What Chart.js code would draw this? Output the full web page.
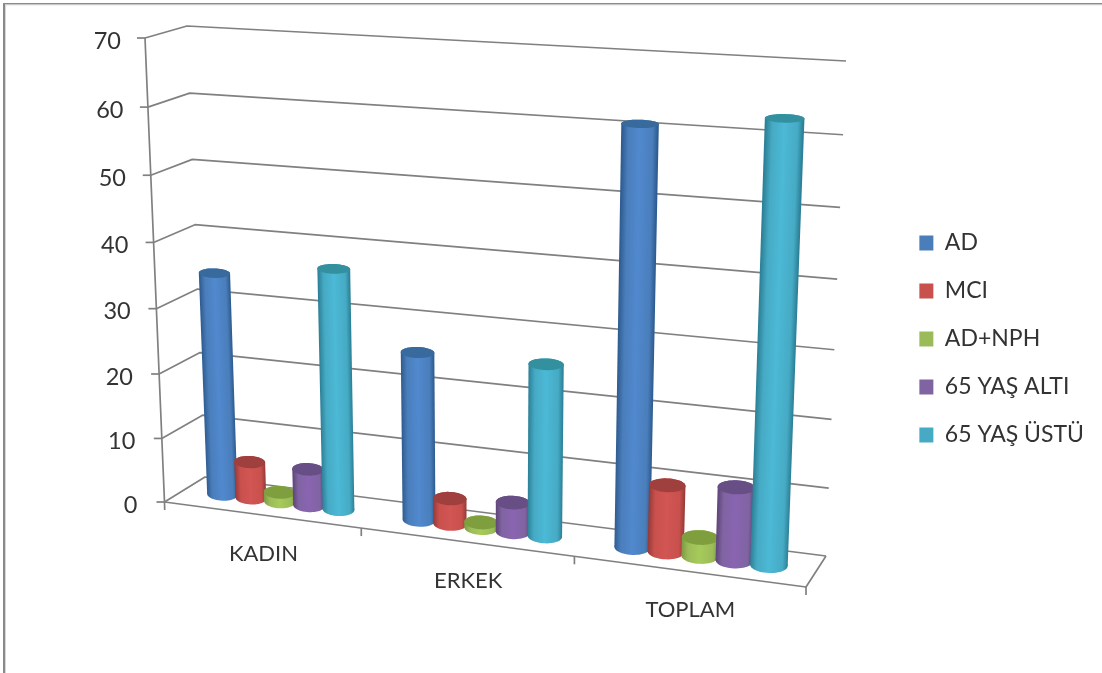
<!DOCTYPE html>
<html>
<head>
<meta charset="utf-8">
<script src="https://cdn.jsdelivr.net/npm/chart.js@4/dist/chart.umd.min.js"></script>
<style>
  html, body { margin: 0; padding: 0; background: #fff; }
  #wrap { width: 1102px; height: 673px; position: relative; }
</style>
</head>
<body>
<div id="wrap"><canvas id="chart" width="1102" height="673"></canvas></div>
<script>
// Chart contents
const categories = ['KADIN', 'ERKEK', 'TOPLAM'];
const seriesNames = ['AD', 'MCI', 'AD+NPH', '65 YAŞ ALTI', '65 YAŞ ÜSTÜ'];
const adValues = [34.5, 25.5, 61];
const mciValues = [5.7, 3.9, 9.9];
const adNphValues = [1.5, 0.85, 2.8];
const under65Values = [5.7, 4.5, 10.8];
const over65Values = [36.8, 25.7, 63];
const seriesValues = [adValues, mciValues, adNphValues, under65Values, over65Values];
const valueMax = 70;
const valueStep = 10;

// Colours per series: [flat, shaded edge, lit centre, top cap]
const palette = [
  ['#4a7ebb', '#2f5c91', '#5189cf', '#386a9e'],
  ['#c8504d', '#943a38', '#d25653', '#a0403e'],
  ['#9bbb59', '#7c9a42', '#a6cb5a', '#7f9f3f'],
  ['#8064a2', '#5e4477', '#8a64b2', '#674e84'],
  ['#46aac4', '#2c8197', '#4cb9d6', '#33909f']
];

// Perspective box: the eight corners of the plot volume on the page
const box = {
  frontBottomLeft: [164.5, 502], frontBottomRight: [806, 587],
  backBottomLeft: [205, 477], backBottomRight: [826, 556],
  frontTopLeft: [145, 38], frontTopRight: [827, 77],
  backTopLeft: [187, 26], backTopRight: [846, 61]
};
const widthWarp = 1.13;     // foreshortening along the category direction
const heightWarp = 1.05;    // foreshortening up the value axis
const barDepthRadius = 0.25;
const capTilt = 0.3;        // how far the round caps follow the floor's slope

const mix = (a, b, k) => [a[0] + (b[0] - a[0]) * k, a[1] + (b[1] - a[1]) * k];

// u: along categories 0..1, d: front to back 0..1, t: share of the value axis 0..1
function project(u, d, t) {
  const f = u / (u + widthWarp * (1 - u));
  const h = t / (t + heightWarp * (1 - t));
  const bottom = mix(mix(box.frontBottomLeft, box.frontBottomRight, f),
                     mix(box.backBottomLeft, box.backBottomRight, f), d);
  const top = mix(mix(box.frontTopLeft, box.frontTopRight, f),
                  mix(box.backTopLeft, box.backTopRight, f), d);
  return mix(bottom, top, h);
}

function polyline(ctx, pts) {
  ctx.beginPath();
  pts.forEach((p, i) => (i ? ctx.lineTo(p[0], p[1]) : ctx.moveTo(p[0], p[1])));
  ctx.stroke();
}

function drawFrame(ctx) {
  // Thin window edge along the top and the left side
  ctx.fillStyle = '#8a8a8a';
  ctx.fillRect(3, 3, 1099, 1.5);
  ctx.fillRect(3, 3, 2, 670);
  ctx.fillStyle = '#cfcfcf';
  ctx.fillRect(5, 4.5, 1097, 0.8);
  ctx.fillRect(5, 4.5, 0.8, 668.5);
}

function drawWalls(chart) {
  const ctx = chart.ctx;
  const y = chart.scales.y;
  const x = chart.scales.x;
  ctx.save();
  ctx.strokeStyle = '#808080';
  ctx.lineWidth = 1.7;
  ctx.lineJoin = 'round';

  // Gridlines fold over the side wall and the back wall
  y.ticks.forEach((tick) => {
    const t = (y.getPixelForValue(0) - y.getPixelForValue(tick.value)) / y.height;
    polyline(ctx, [project(0, 0, t), project(0, 1, t), project(1, 1, t)]);
    const p = project(0, 0, t);
    polyline(ctx, [[p[0] - 8, p[1]], p]);
  });

  // Value axis, floor front edge, floor right edge
  polyline(ctx, [project(0, 0, 1), project(0, 0, 0), [164.7, 510]]);
  polyline(ctx, [project(0, 0, 0), project(1, 0, 0), project(1, 1, 0)]);

  // Category boundary ticks
  categories.forEach((_, i) => {
    const p = project((i + 1) / categories.length, 0, 0);
    polyline(ctx, [p, [p[0], p[1] + 8]]);
  });

  // Value labels follow the slanted axis
  ctx.fillStyle = '#333';
  ctx.font = '23.5px Lato';
  ctx.textAlign = 'right';
  ctx.textBaseline = 'middle';
  y.ticks.forEach((tick) => {
    const t = (y.getPixelForValue(0) - y.getPixelForValue(tick.value)) / y.height;
    const p = project(0, 0, t);
    ctx.fillText(String(tick.value), p[0] - 24 - 3 * (1 - t), p[1] + 3);
  });

  // Category labels follow the slanted floor edge
  ctx.font = '22px Lato';
  ctx.textAlign = 'center';
  categories.forEach((label, i) => {
    const u = (x.getPixelForTick(i) - x.left) / x.width;
    const p = project(u, 0, 0);
    ctx.fillText(label, p[0] + 2.5, p[1] + 39);
  });
  ctx.restore();
}

// Outline of a bar's round section at height t
function ring(u, ru, t) {
  const pts = [];
  const centre = project(u, 0.5, t);
  for (let k = 0; k < 48; k++) {
    const a = (k / 48) * Math.PI * 2;
    const side = project(u + ru * Math.cos(a), 0.5, t);
    const depth = project(u, 0.5 + barDepthRadius * Math.sin(a), t);
    pts.push([side[0], depth[1] + capTilt * (side[1] - centre[1])]);
  }
  return pts;
}

function fillPath(ctx, pts) {
  ctx.beginPath();
  pts.forEach((p, i) => (i ? ctx.lineTo(p[0], p[1]) : ctx.moveTo(p[0], p[1])));
  ctx.closePath();
  ctx.fill();
}

function drawCylinder(ctx, bar, colors, chart) {
  const area = chart.chartArea;
  const yScale = chart.scales.y;
  const u = (bar.x - area.left) / (area.right - area.left);
  const ru = bar.width / 2 / (area.right - area.left);
  const t = (bar.base - bar.y) / yScale.height;
  const low = ring(u, ru, 0);
  const high = ring(u, ru, t);
  const lowMid = project(u, 0.5, 0);
  const highMid = project(u, 0.5, t);

  const extremes = (pts) => [
    pts.reduce((m, p) => (p[0] < m[0] ? p : m)),
    pts.reduce((m, p) => (p[0] > m[0] ? p : m))
  ];
  const [lowL, lowR] = extremes(low);
  const [highL, highR] = extremes(high);

  // Shade across the cylinder, perpendicular to its leaning axis
  let ax = highMid[0] - lowMid[0];
  let ay = highMid[1] - lowMid[1];
  const len = Math.hypot(ax, ay) || 1;
  ax /= len; ay /= len;
  const half = (lowR[0] - lowL[0]) / 2;
  const mid = [(lowMid[0] + highMid[0]) / 2, (lowMid[1] + highMid[1]) / 2];
  const nx = -ay, ny = ax;
  const grad = ctx.createLinearGradient(mid[0] + nx * half, mid[1] + ny * half,
                                        mid[0] - nx * half, mid[1] - ny * half);
  grad.addColorStop(0, colors[1]);
  grad.addColorStop(0.14, colors[0]);
  grad.addColorStop(0.5, colors[2]);
  grad.addColorStop(0.82, colors[0]);
  grad.addColorStop(1, colors[1]);

  ctx.fillStyle = grad;
  fillPath(ctx, low);
  fillPath(ctx, [lowL, highL, highR, lowR]);
  fillPath(ctx, high);
  ctx.fillStyle = colors[3];
  fillPath(ctx, high);
}

const perspectivePlugin = {
  id: 'perspective',
  beforeDraw(chart) {
    drawFrame(chart.ctx);
    drawWalls(chart);
  },
  // The bars are laid out by the library and painted here as cylinders, left to right
  beforeDatasetsDraw(chart) {
    const ctx = chart.ctx;
    ctx.save();
    seriesNames.forEach((_, i) => {
      chart.getDatasetMeta(i).data.forEach((bar) => {
        drawCylinder(ctx, bar, palette[i], chart);
      });
    });
    ctx.restore();
    return false;
  }
};

new Chart(document.getElementById('chart'), {
  type: 'bar',
  data: {
    labels: categories,
    datasets: seriesNames.map((name, i) => ({
      label: name,
      data: seriesValues[i],
      backgroundColor: palette[i][0],
      borderWidth: 0,
      categoryPercentage: 0.75,
      barPercentage: 1.07
    }))
  },
  plugins: [perspectivePlugin],
  options: {
    responsive: false,
    animation: false,
    layout: { padding: { top: 5, right: 8, left: 0, bottom: 0 } },
    scales: {
      x: { grid: { display: false }, border: { display: false }, ticks: { display: false } },
      y: {
        min: 0, max: valueMax,
        grid: { display: false }, border: { display: false },
        ticks: { display: false, stepSize: valueStep }
      }
    },
    plugins: {
      title: { display: false },
      tooltip: { enabled: false },
      legend: {
        position: 'right',
        labels: {
          boxWidth: 14,
          boxHeight: 15,
          padding: 25,
          color: '#333',
          font: { family: 'Lato', size: 23 }
        }
      }
    }
  }
});
</script>
</body>
</html>
